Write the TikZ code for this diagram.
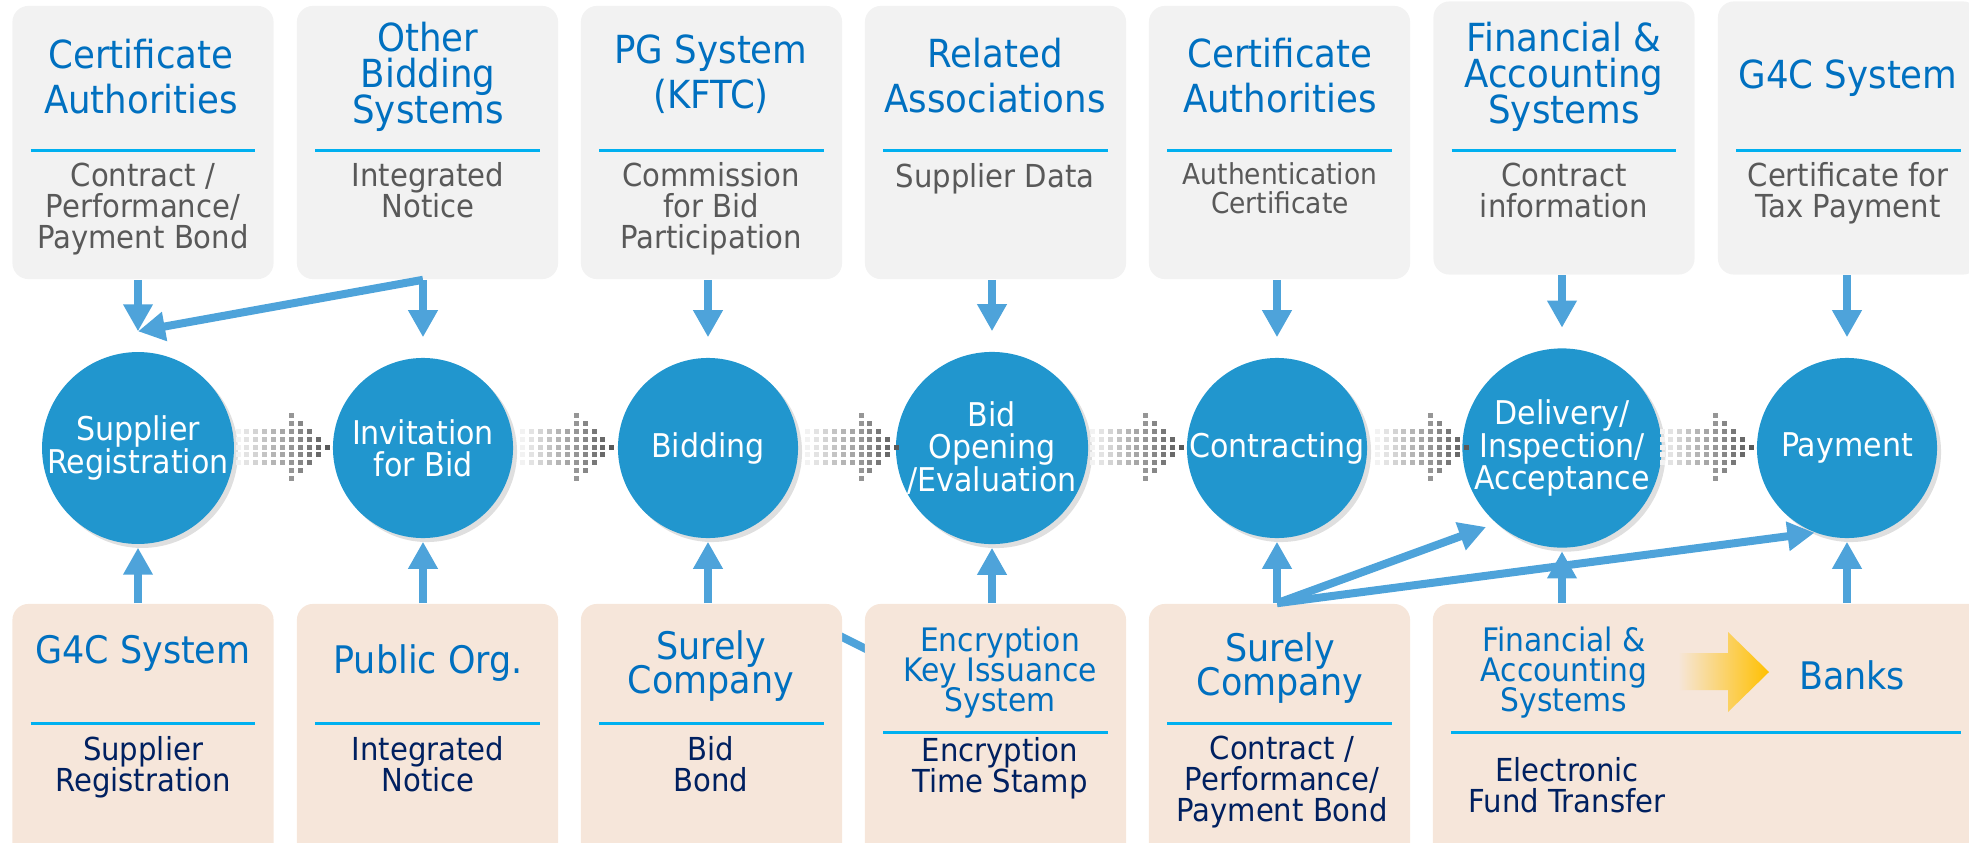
\documentclass[tikz,border=0pt]{standalone}
\usepackage{fontspec}
\setmainfont{DejaVu Sans}[FakeStretch=0.92]
\usetikzlibrary{arrows.meta,shadows,calc}
\lineskiplimit=-\maxdimen

\definecolor{boxgray}{RGB}{242,242,242}
\definecolor{boxpeach}{RGB}{246,230,218}
\definecolor{headblue}{RGB}{0,112,192}
\definecolor{subgray}{RGB}{89,89,89}
\definecolor{subnavy}{RGB}{0,32,96}
\definecolor{sepcyan}{RGB}{0,176,240}
\definecolor{flowblue}{RGB}{78,163,218}
\definecolor{stageblue}{RGB}{33,150,206}
\definecolor{gold}{RGB}{255,192,0}

\begin{document}
\begin{tikzpicture}[x=0.01cm,y=-0.01cm,
    sysbox/.style ={rounded corners=0.16cm, fill=boxgray, minimum width=2.61cm, minimum height=2.73cm, inner sep=0pt},
    orgbox/.style ={rounded corners=0.16cm, fill=boxpeach, minimum width=2.61cm, minimum height=2.6cm, inner sep=0pt},
    stage/.style ={circle, fill=stageblue, minimum size=1.8cm, inner sep=0pt, text=white, align=center,
                   font=\fontsize{9.3}{9.2}\selectfont, drop shadow={opacity=0.25, shadow xshift=0.04cm, shadow yshift=-0.04cm}},
    headtext/.style ={anchor=base, align=center, inner sep=0pt, text=headblue, font=\fontsize{11}{12.6}\selectfont},
    headtight/.style ={headtext, font=\fontsize{11}{10.1}\selectfont},
    headsmall/.style ={headtext, font=\fontsize{9.2}{8.5}\selectfont},
    infotext/.style ={anchor=base, align=center, inner sep=0pt, text=subgray, font=\fontsize{9}{8.7}\selectfont},
    infodark/.style ={infotext, text=subnavy},
    divider/.style ={draw=sepcyan, line width=0.03cm},
    flow/.style ={draw=flowblue, line width=0.08cm, -{Triangle[width=0.28cm,length=0.27cm]}}]
   \useasboundingbox (0,0) rectangle (1969,842);
   \clip (0,0) rectangle (1969,842);

   % line hidden behind the bottom boxes
   \coordinate (hid1) at (800,616);
   \coordinate (hid2) at (900,666);
   \draw[flowblue, line width=0.08cm] (hid1) -- (hid2);

   % systems (top row)
   \node[sysbox] (t1) at (143,142.5) {};
   \node[sysbox] (t2) at (427.5,142.5) {};
   \node[sysbox] (t3) at (711.5,142.5) {};
   \node[sysbox] (t4) at (995.5,142.5) {};
   \node[sysbox] (t5) at (1279.5,142.5) {};
   \node[sysbox] (t6) at (1564,138) {};
   \node[sysbox] (t7) at (1848.5,138) {};

   % organisations (bottom row)
   \node[orgbox] (b1) at (143,734) {};
   \node[orgbox] (b2) at (427.5,734) {};
   \node[orgbox] (b3) at (711.5,734) {};
   \node[orgbox] (b4) at (995.5,734) {};
   \node[orgbox] (b5) at (1279.5,734) {};
   \node[orgbox, minimum width=5.77cm] (b6) at (1721.5,734) {};

   \foreach \n in {t1,t2,t3,t4,t5,t6,t7}
     \draw[divider] ($(\n.west |- 0,150)+(19,0)$) -- ($(\n.east |- 0,150)+(-19,0)$);
   \foreach \n/\y in {b1/723,b2/723,b3/723,b4/732,b5/723}
     \draw[divider] ($(\n.west |- 0,\y)+(19,0)$) -- ($(\n.east |- 0,\y)+(-19,0)$);
   \draw[divider] ($(b6.west |- 0,732)+(19,0)$) -- (1961,732);

   % texts, placed by the baseline of their last line
   \node[headtext] (t1h) at (141,113) {Certificate\\Authorities};
   \node[infotext] (t1s) at (143,248) {Contract /\\Performance/\\Payment Bond};
   \node[headtight] (t2h) at (428,123) {Other\\Bidding\\Systems};
   \node[infotext] (t2s) at (428,217) {Integrated\\Notice};
   \node[headtext] (t3h) at (711,108) {PG System\\(KFTC)};
   \node[infotext] (t3s) at (711,248) {Commission\\for Bid\\Participation};
   \node[headtext] (t4h) at (995,112) {Related\\Associations};
   \node[infotext] (t4s) at (995,187) {Supplier Data};
   \node[headtext] (t5h) at (1280,112) {Certificate\\Authorities};
   \node[infotext, font=\fontsize{8.2}{8}\selectfont] (t5s) at (1280,213) {Authentication\\Certificate};
   \node[headtight] (t6h) at (1564,123) {Financial \&\\Accounting\\Systems};
   \node[infotext] (t6s) at (1564,217) {Contract\\information};
   \node[headtext] (t7h) at (1848,88) {G4C System};
   \node[infotext] (t7s) at (1848,217) {Certificate for\\Tax Payment};

   \node[headtext, font=\fontsize{10.8}{9.4}\selectfont] (b1h) at (143,663) {G4C System};
   \node[infodark] (b1s) at (143,791) {Supplier\\Registration};
   \node[headtext, font=\fontsize{10.8}{9.4}\selectfont] (b2h) at (428,673) {Public Org.};
   \node[infodark] (b2s) at (428,791) {Integrated\\Notice};
   \node[headtext, font=\fontsize{10.8}{9.4}\selectfont] (b3h) at (711,693) {Surely\\Company};
   \node[infodark] (b3s) at (711,791) {Bid\\Bond};
   \node[headsmall] (b4h) at (1000,711) {Encryption\\Key Issuance\\System};
   \node[infodark] (b4s) at (1000,792) {Encryption\\Time Stamp};
   \node[headtext, font=\fontsize{10.8}{9.4}\selectfont] (b5h) at (1280,695) {Surely\\Company};
   \node[infodark] (b5s) at (1282,821) {Contract /\\Performance/\\Payment Bond};
   \node[headsmall] (b6h) at (1564,711) {Financial \&\\Accounting\\Systems};
   \node[headtext, font=\fontsize{10.8}{9.4}\selectfont] (b6b) at (1852,689) {Banks};
   \node[infodark] (b6s) at (1567,812) {Electronic\\Fund Transfer};

   % payment goes on to the banks
   \shade[left color=boxpeach, middle color=gold!80!boxpeach, right color=gold]
     (1678,653) -- (1728,653) -- (1728,632) -- (1769,672) -- (1728,712) -- (1728,690) -- (1678,690) -- cycle;

   % procurement stages
   \node[stage] (c1) at (138,448) {Supplier\\Registration};
   \node[stage] (c2) at (423,448) {Invitation\\for Bid};
   \node[stage] (c3) at (708,448) {Bidding};
   \node[stage] (c4) at (992,448) {Bid\\Opening\\/Evaluation};
   \node[stage] (c5) at (1277,448) {Contracting};
   \node[stage] (c6) at (1562,448) {Delivery/\\Inspection/\\Acceptance};
   \node[stage] (c7) at (1847,448) {Payment};

   % dotted arrows between the stages
   \foreach \i in {1,...,6}{
     \foreach \j in {0,...,10}{
       \pgfmathtruncatemacro{\h}{\j<6 ? 2 : 10-\j}
       \pgfmathtruncatemacro{\g}{5+6*\j}
       \foreach \k in {-\h,...,\h}
         \fill[black!\g] ({138+284.8*(\i-1)+100+8.9*\j-2.5},{447+7.8*\k-2.5}) rectangle ++(5,5);
     }
   }

   \foreach \n in {1,...,7}{
     \draw[flow, shorten >=0.2cm] (c\n |- t\n.south) to (c\n.north);
   }
   \draw[flow, shorten >=0.03cm] (c1 |- b1.north) to (c1.south);
   \draw[flow, shorten >=0.03cm] (c2 |- b2.north) to (c2.south);
   \draw[flow, shorten >=0.03cm] (c3 |- b3.north) to (c3.south);
   \draw[flow, shorten >=0.03cm] (c4 |- b4.north) to (c4.south);
   \draw[flow, shorten >=0.03cm] (c5 |- b5.north) to (c5.south);
   \draw[flow, shorten >=0.03cm] (c6 |- b6.north) to (c6.south);
   \draw[flow, shorten >=0.03cm] (c7 |- b6.north) to (c7.south);

   \coordinate (regtip) at ([yshift=0.2cm]c1.north);
   \coordinate (deltip) at (1486,527);
   \draw[flow] (c2 |- t2.south) to (regtip);
   \draw[flow] (c5 |- b5.north) to (deltip);
   \draw[flow] (c5 |- b5.north) to (c7.249);
 \end{tikzpicture}
\end{document}
